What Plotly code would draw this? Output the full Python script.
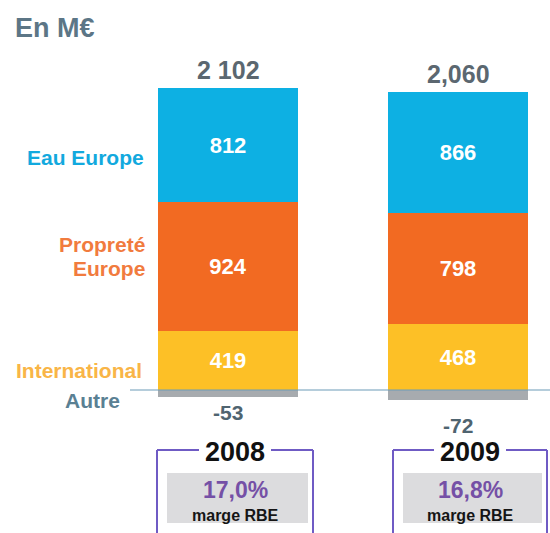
import plotly.graph_objects as go

# ---- data ----
years = ["2008", "2009"]
eau_europe = [812, 866]
proprete_europe = [924, 798]
international = [419, 468]
autre = [-53, -72]
total_labels = ["2 102", "2,060"]
marge_rbe = ["17,0%", "16,8%"]
series_names = ["International", "Propreté Europe", "Eau Europe", "Autre"]

W, H = 550, 533
FONT = "Arial, Liberation Sans, sans-serif"

def px(x):
    return x / W

def py(y):
    return 1 - y / H

xpos = [0, 1]
bar_w = 0.609

fig = go.Figure()
series = [
    (international, "#FDC026", "International", True),
    (proprete_europe, "#F26A22", "Propreté Europe", True),
    (eau_europe, "#0DB0E3", "Eau Europe", True),
    (autre, "#A7ABAF", "Autre", False),
]
for vals, col, name, show in series:
    fig.add_trace(go.Bar(
        x=xpos, y=vals, name=name, width=bar_w,
        marker=dict(color=col, line=dict(width=0)),
        text=[f"<b>{v}</b>" for v in vals] if show else None,
        textposition="inside" if show else "none",
        insidetextanchor="middle",
        textfont=dict(family=FONT, size=22, color="white"),
        showlegend=False, hoverinfo="skip",
    ))

annotations = []
# totals above bars
pos_tot = [a + b + c for a, b, c in zip(eau_europe, proprete_europe, international)]
for i, (t, lab) in enumerate(zip(pos_tot, total_labels)):
    annotations.append(dict(x=xpos[i], y=t, xref="x", yref="y", text=f"<b>{lab}</b>",
                            showarrow=False, xanchor="center", yanchor="bottom", yshift=2,
                            font=dict(family=FONT, size=25, color="#5B6770")))
# autre labels below
autre_shift = [-2, -12]
for i, v in enumerate(autre):
    annotations.append(dict(x=xpos[i], y=v, xref="x", yref="y", text=f"<b>{v}</b>",
                            showarrow=False, xanchor="center", yanchor="top", yshift=autre_shift[i],
                            font=dict(family=FONT, size=21, color="#4F6470")))

# left category labels
left = [
    dict(x=px(146), y=py(158), text="<b>Eau Europe</b>", xanchor="right",
         font=dict(family=FONT, size=21, color="#12A9DE")),
    dict(x=px(147), y=py(245), text="<b>Propreté</b>", xanchor="right",
         font=dict(family=FONT, size=21, color="#F17B3E")),
    dict(x=px(147), y=py(268), text="<b>Europe</b>", xanchor="right",
         font=dict(family=FONT, size=21, color="#F17B3E")),
    dict(x=px(144), y=py(370), text="<b>International</b>", xanchor="right",
         font=dict(family=FONT, size=21, color="#F9B547")),
    dict(x=px(122), y=py(400), text="<b>Autre</b>", xanchor="right",
         font=dict(family=FONT, size=21, color="#5A8093")),
    dict(x=px(13), y=py(28), text="<b>En M€</b>", xanchor="left",
         font=dict(family=FONT, size=27, color="#5C7686")),
]
for a in left:
    a.update(xref="paper", yref="paper", showarrow=False, yanchor="middle")
annotations += left

shapes = [
    # baseline connector
    dict(type="line", xref="paper", yref="y", x0=px(130), x1=1, y0=0, y1=0,
         line=dict(color="#6C9CB8", width=1.2), layer="above"),
]

# year boxes
boxes = [(157, 313), (393, 547)]
for i, (x0, x1) in enumerate(boxes):
    cx = (x0 + x1) / 2
    line = dict(color="#6F5BC4", width=2)
    shapes.append(dict(type="line", xref="paper", yref="paper", x0=px(x0), x1=px(x0),
                       y0=py(450), y1=py(540), line=line))
    shapes.append(dict(type="line", xref="paper", yref="paper", x0=px(x1), x1=px(x1),
                       y0=py(450), y1=py(540), line=line))
    shapes.append(dict(type="line", xref="paper", yref="paper", x0=px(x0), x1=px(cx - 36),
                       y0=py(450), y1=py(450), line=line))
    shapes.append(dict(type="line", xref="paper", yref="paper", x0=px(cx + 36), x1=px(x1),
                       y0=py(450), y1=py(450), line=line))
    shapes.append(dict(type="rect", xref="paper", yref="paper", x0=px(x0 + 10), x1=px(x1 - 5),
                       y0=py(523), y1=py(473), fillcolor="#DCDCDE", line=dict(width=0),
                       layer="below"))
    for txt, yy, size, col in [(years[i], 452, 27, "#111111"),
                               (marge_rbe[i], 490, 23, "#7550A6"),
                               ("marge RBE", 515, 16, "#151515")]:
        annotations.append(dict(x=px(cx), y=py(yy), xref="paper", yref="paper",
                                text=f"<b>{txt}</b>", showarrow=False,
                                xanchor="center", yanchor="middle",
                                font=dict(family=FONT, size=size, color=col)))

# y scale: 0 at 390px from top, 0.14 px per unit
scale = 0.14
ymin = -(H - 390) / scale
ymax = ymin + H / scale
xmin = -228 / 230
xmax = xmin + W / 230

fig.update_layout(
    width=W, height=H, margin=dict(l=0, r=0, t=0, b=0),
    paper_bgcolor="white", plot_bgcolor="white",
    barmode="relative", bargap=0,
    xaxis=dict(range=[xmin, xmax], visible=False, fixedrange=True),
    yaxis=dict(range=[ymin, ymax], visible=False, fixedrange=True),
    annotations=annotations, shapes=shapes,
)

fig.write_html("out.html")
